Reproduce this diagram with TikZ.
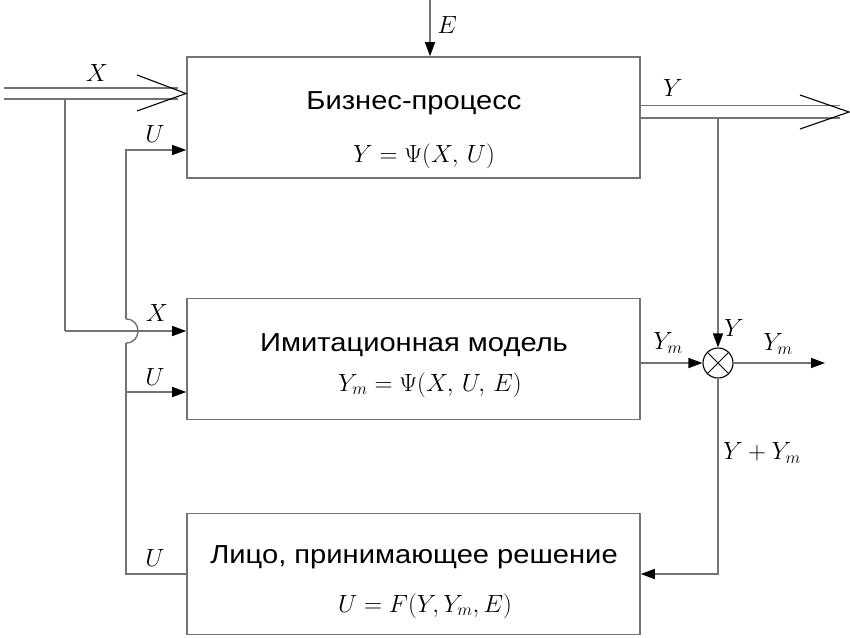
\documentclass[tikz,border=0pt]{standalone}
\usepackage{fontspec}
\setmainfont{Liberation Sans}
\newfontfamily\titlefont[FakeStretch=1.12]{Liberation Sans}
\usetikzlibrary{arrows.meta,calc}
\definecolor{ln}{rgb}{0.45,0.45,0.45}
\begin{document}
\begin{tikzpicture}[x=1pt,y=-1pt,
  line width=1.4pt,
  box/.style={draw=ln,line width=1.6pt,minimum width=453pt,minimum height=121pt,inner sep=0pt},
  title/.style={font=\titlefont\fontsize{26}{30}\selectfont,inner sep=0pt},
  frm/.style={font=\fontsize{25}{29}\selectfont,inner sep=0pt},
  lbl/.style={font=\fontsize{23}{27}\selectfont,inner sep=0pt},
  wire/.style={draw=ln},
  arr/.style={draw=ln,-{Triangle[length=14pt,width=10pt,color=black]}},
  openv/.style={draw=black,line width=1.1pt}]
\useasboundingbox (0,0) rectangle (850,637);
% boxes
\node[box] (b1) at (413.5,117.5) {};
\node[box] (b2) at (413.5,359) {};
\node[box] (b3) at (413.5,574) {};
\node[title] (t1) at (414,103) {Бизнес-процесс};
\node[frm] (f1) at (424,156) {$Y=\Psi(X,\,U)$};
\node[title] (t2) at (414,345) {Имитационная модель};
\node[frm] (f2) at (430,385) {$Y_m=\Psi(X,\,U,\,E)$};
\node[title] (t3) at (414,557) {Лицо, принимающее решение};
\node[frm] (f3) at (425,606) {$U=F(Y,Y_m,E)$};
% E input
\coordinate (eTop) at (430,0);
\draw[arr] (eTop) -- (eTop |- b1.north);
\node[lbl] (lE) at (447,25) {$E$};
% X double input
\coordinate (xa1) at (4,88);
\coordinate (xa2) at (4,99);
\coordinate (xtip) at (186,93.5);
\coordinate (xv1) at (137,75);
\coordinate (xv2) at (137,111);
\draw[wire] (xa1) -- (178,88);
\draw[wire] (xa2) -- (178,99);
\draw[openv] (xv1) -- (xtip) -- (xv2);
\node[lbl] (lX1) at (97,73) {$X$};
% X branch to model
\coordinate (xb) at (65,99);
\coordinate (xc) at (65,331);
\draw[wire] (xb) -- (xc);
\draw[arr] (xc) -- (xc -| b2.west);
\node[lbl] (lX2) at (157,313) {$X$};
% U bus
\coordinate (u1) at (126,150);
\coordinate (uj1) at (126,319);
\coordinate (uj2) at (126,343);
\coordinate (u2) at (126,392);
\coordinate (u3) at (126,574);
\draw[arr] (uj1) -- (u1) -- (u1 -| b1.west);
\draw[wire] (uj1) .. controls (142,319) and (142,343) .. (uj2);
\draw[wire] (uj2) -- (u3) -- (b3.west);
\draw[arr] (u2) -- (u2 -| b2.west);
\node[lbl] (lU1) at (155,134) {$U$};
\node[lbl] (lU2) at (155,377) {$U$};
\node[lbl] (lU3) at (155,558) {$U$};
% Y double output
\coordinate (ya1) at (640,105.5);
\coordinate (ya2) at (640,118);
\coordinate (ytip) at (849,112);
\coordinate (yv1) at (800,95);
\coordinate (yv2) at (800,129);
\draw[wire] (ya1) -- (840,105.5);
\draw[wire] (ya2) -- (840,118);
\draw[openv] (yv1) -- (ytip) -- (yv2);
\node[lbl] (lY1) at (673,88) {$Y$};
% comparator
\node[draw=black,line width=1.1pt,circle,minimum size=30pt,inner sep=0pt] (sum) at (718,363) {};
\draw[black,line width=1pt] (sum.north west) -- (sum.south east);
\draw[black,line width=1pt] (sum.north east) -- (sum.south west);
\coordinate (yb) at (718,118);
\draw[arr] (yb) -- (sum.north);
\node[lbl] (lY2) at (734,328) {$Y$};
\draw[arr] (b2.east |- sum) -- (sum.west);
\node[lbl] (lYm1) at (668,343) {$Y_m$};
\coordinate (out) at (825,363);
\draw[arr] (sum.east) -- (out);
\node[lbl] (lYm2) at (778,344) {$Y_m$};
\coordinate (fb) at (718,574);
\draw[arr] (sum.south) -- (fb) -- (b3.east);
\node[lbl] (lsum) at (762,453) {$Y+Y_m$};
\end{tikzpicture}
\end{document}
